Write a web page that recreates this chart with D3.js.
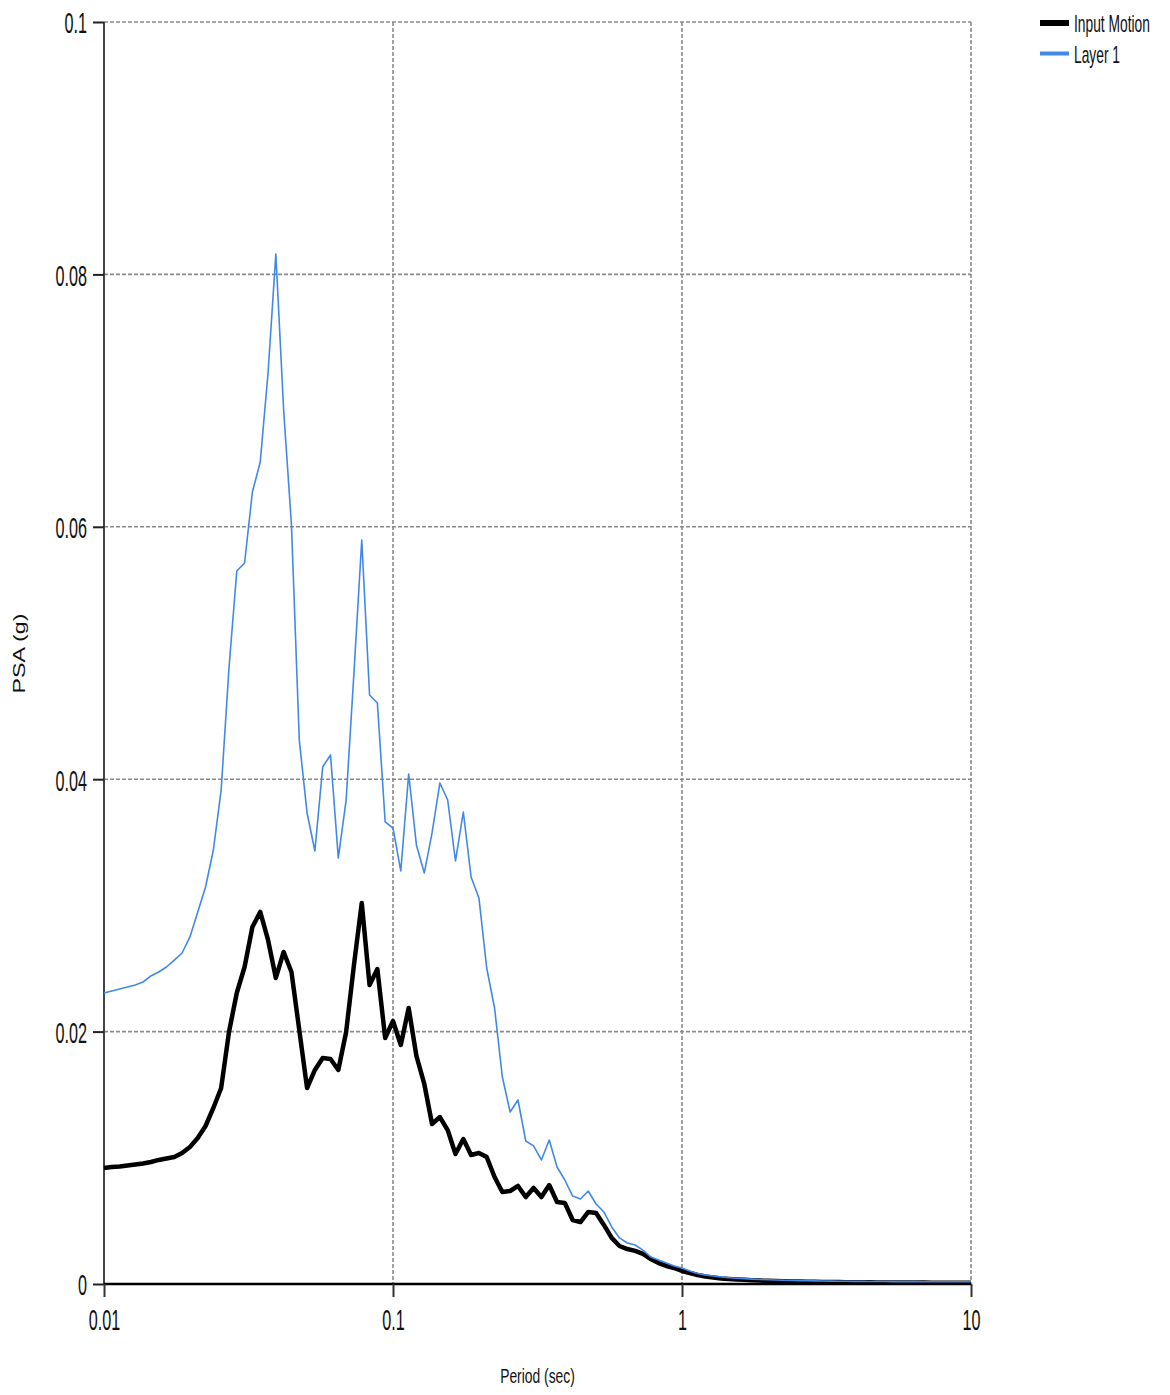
<!DOCTYPE html>
<html>
<head>
<meta charset="utf-8">
<script src="https://cdn.jsdelivr.net/npm/d3@7"></script>
<style>
  body { margin: 0; background: #fff; }
  svg { display: block; }
</style>
</head>
<body>
<svg id="chart" width="1170" height="1395"></svg>
<script>
// Response spectrum periods (sec), 37 per decade from 0.01 to 10
const periods = [
  0.01, 0.01064, 0.01133, 0.01205, 0.01283, 0.01365, 0.01453, 0.01546, 0.01645, 0.01751, 0.01863, 0.01983, 0.0211, 0.02246, 0.0239, 0.02543, 0.02707, 0.0288, 0.03065, 0.03262, 0.03472, 0.03695, 0.03932, 0.04184, 0.04453, 0.04739, 0.05043, 0.05367, 0.05711, 0.06078, 0.06468, 0.06884, 0.07326, 0.07796, 0.08297, 0.08829, 0.09396,
  0.1, 0.1064, 0.1133, 0.1205, 0.1283, 0.1365, 0.1453, 0.1546, 0.1645, 0.1751, 0.1863, 0.1983, 0.211, 0.2246, 0.239, 0.2543, 0.2707, 0.288, 0.3065, 0.3262, 0.3472, 0.3695, 0.3932, 0.4184, 0.4453, 0.4739, 0.5043, 0.5367, 0.5711, 0.6078, 0.6468, 0.6884, 0.7326, 0.7796, 0.8297, 0.8829, 0.9396,
  1, 1.064, 1.133, 1.205, 1.283, 1.365, 1.453, 1.546, 1.645, 1.751, 1.863, 1.983, 2.11, 2.246, 2.39, 2.543, 2.707, 2.88, 3.065, 3.262, 3.472, 3.695, 3.932, 4.184, 4.453, 4.739, 5.043, 5.367, 5.711, 6.078, 6.468, 6.884, 7.326, 7.796, 8.297, 8.829, 9.396,
  10
];

// PSA (g) of the input motion
const inputMotion = [
  0.00919, 0.00927, 0.00931, 0.00939, 0.00947, 0.00955, 0.00967, 0.00983, 0.00994, 0.01006,
  0.01038, 0.01086, 0.01157, 0.01252, 0.01395, 0.01553, 0.01997, 0.02306, 0.02512, 0.02829,
  0.02948, 0.02726, 0.02425, 0.02631, 0.02472, 0.02013, 0.01553, 0.01696, 0.01791, 0.01783,
  0.01696, 0.01997, 0.02528, 0.03019, 0.02369, 0.02496, 0.01949, 0.02084, 0.01894, 0.02187,
  0.01807, 0.01585, 0.01268, 0.01323, 0.01220, 0.01030, 0.01149, 0.01022, 0.01038, 0.01006,
  0.00848, 0.00729, 0.00737, 0.00777, 0.00689, 0.00761, 0.00689, 0.00784, 0.00650, 0.00642,
  0.00507, 0.00491, 0.00571, 0.00563, 0.00468, 0.00365, 0.00301, 0.00277, 0.00262, 0.00238,
  0.00198, 0.00166, 0.00143, 0.00127, 0.00103, 0.00087, 0.00071, 0.00059, 0.00052, 0.00044,
  0.00040, 0.00036, 0.00033, 0.00030, 0.00027, 0.00025, 0.00023, 0.00021, 0.00020, 0.00019,
  0.00018, 0.00017, 0.00016, 0.00015, 0.00015, 0.00014, 0.00014, 0.00013, 0.00013, 0.00012,
  0.00012, 0.00012, 0.00011, 0.00011, 0.00011, 0.00011, 0.00010, 0.00010, 0.00010, 0.00010,
  0.00010, 0.00010
];

// PSA (g) at Layer 1
const layer1 = [
  0.02306, 0.02322, 0.02338, 0.02353, 0.02369, 0.02393, 0.02441, 0.02472, 0.02512, 0.02567,
  0.02623, 0.02750, 0.02948, 0.03146, 0.03439, 0.03914, 0.04881, 0.05650, 0.05713, 0.06276,
  0.06513, 0.07219, 0.08162, 0.06926, 0.06014, 0.04311, 0.03732, 0.03431, 0.04097, 0.04192,
  0.03376, 0.03835, 0.04842, 0.05895, 0.04667, 0.04604, 0.03661, 0.03613, 0.03273, 0.04041,
  0.03479, 0.03257, 0.03574, 0.03970, 0.03835, 0.03352, 0.03740, 0.03225, 0.03059, 0.02504,
  0.02187, 0.01640, 0.01363, 0.01458, 0.01133, 0.01094, 0.00983, 0.01141, 0.00927, 0.00824,
  0.00697, 0.00674, 0.00737, 0.00634, 0.00571, 0.00452, 0.00365, 0.00325, 0.00309, 0.00269,
  0.00214, 0.00190, 0.00166, 0.00143, 0.00127, 0.00103, 0.00083, 0.00071, 0.00063, 0.00055,
  0.00050, 0.00046, 0.00042, 0.00039, 0.00036, 0.00034, 0.00032, 0.00030, 0.00028, 0.00027,
  0.00026, 0.00025, 0.00024, 0.00023, 0.00022, 0.00022, 0.00021, 0.00021, 0.00020, 0.00020,
  0.00020, 0.00019, 0.00019, 0.00019, 0.00019, 0.00018, 0.00018, 0.00018, 0.00018, 0.00018,
  0.00018, 0.00018
];

const xTicks = [0.01, 0.1, 1, 10];
const xTickLabels = ["0.01", "0.1", "1", "10"];
const yTicks = [0, 0.02, 0.04, 0.06, 0.08, 0.1];
const yTickLabels = ["0", "0.02", "0.04", "0.06", "0.08", "0.1"];
const seriesNames = ["Input Motion", "Layer 1"];
const seriesColors = ["#000000", "#4189e8"];
const seriesWidths = [4.5, 1.6];

const W = 1170, H = 1395;
const plot = { left: 104, right: 971, top: 22, bottom: 1284 };
const FONT = "'Liberation Sans', Arial, sans-serif";

const svg = d3.select("#chart");

const x = d3.scaleLog().domain([0.01, 10]).range([plot.left, plot.right]);
const y = d3.scaleLinear().domain([0, 0.1]).range([plot.bottom, plot.top]);

// dashed grid
const grid = svg.append("g").attr("class", "grid");
grid.selectAll("line.h").data(yTicks.filter(d => d > 0)).join("line")
  .attr("x1", plot.left).attr("x2", plot.right)
  .attr("y1", d => y(d)).attr("y2", d => y(d))
  .attr("stroke", "#8a8a8a").attr("stroke-width", 1.6).attr("stroke-dasharray", "4,2");
grid.selectAll("line.v").data(xTicks.filter(d => d > 0.01)).join("line")
  .attr("x1", d => x(d)).attr("x2", d => x(d))
  .attr("y1", plot.top).attr("y2", plot.bottom)
  .attr("stroke", "#8a8a8a").attr("stroke-width", 1.6).attr("stroke-dasharray", "4,2");

// left axis
const sxY = 0.54;
const yAxis = d3.axisLeft(y).tickValues(yTicks)
  .tickFormat((d, i) => yTickLabels[i]).tickSizeInner(11).tickSizeOuter(0);
const gy = svg.append("g").attr("transform", `translate(${plot.left},0)`).call(yAxis);
gy.select(".domain").attr("stroke", "#444").attr("stroke-width", 2)
  .attr("d", `M0,${plot.top}V${plot.bottom}`);
gy.selectAll(".tick line").attr("stroke", "#222").attr("stroke-width", 2);
gy.selectAll(".tick text")
  .attr("font-family", FONT).attr("font-size", 30).attr("fill", "#111")
  .attr("text-anchor", "end").attr("dy", "0.36em")
  .attr("x", -17 / sxY)
  .attr("transform", `scale(${sxY},1)`);

// bottom axis
const sxX = 0.54;
const xAxis = d3.axisBottom(x).tickValues(xTicks)
  .tickFormat((d, i) => xTickLabels[i]).tickSizeInner(13).tickSizeOuter(0);
const gx = svg.append("g").attr("transform", `translate(0,${plot.bottom})`).call(xAxis);
gx.select(".domain").attr("stroke", "#000").attr("stroke-width", 2.5)
  .attr("d", `M${plot.left},0H${plot.right}`);
gx.selectAll(".tick line").attr("stroke", "#333").attr("stroke-width", 2);
gx.selectAll(".tick text")
  .attr("font-family", FONT).attr("font-size", 30).attr("fill", "#111")
  .attr("text-anchor", "middle").attr("dy", 0).attr("y", 46)
  .attr("transform", `scale(${sxX},1)`);

// series lines
const series = [inputMotion, layer1];
const line = d3.line().x((d, i) => x(periods[i])).y(d => y(d));
svg.append("g").selectAll("path").data(series).join("path")
  .attr("d", d => line(d))
  .attr("fill", "none")
  .attr("stroke", (d, i) => seriesColors[i])
  .attr("stroke-width", (d, i) => seriesWidths[i])
  .attr("stroke-linejoin", "round");

// axis titles
svg.append("g").attr("transform", "translate(537.5,1383) scale(0.66,1)")
  .append("text").attr("text-anchor", "middle")
  .attr("font-family", FONT).attr("font-size", 21).attr("fill", "#111")
  .text("Period (sec)");
svg.append("g").attr("transform", "translate(25,653.5) rotate(-90) scale(1.45,1)")
  .append("text").attr("text-anchor", "middle")
  .attr("font-family", FONT).attr("font-size", 16).attr("fill", "#111")
  .text("PSA (g)");

// legend
const legend = svg.append("g");
const legendRows = legend.selectAll("g").data(seriesNames).join("g")
  .attr("transform", (d, i) => `translate(1040,${23 + i * 30.5})`);
legendRows.append("line")
  .attr("x1", 0).attr("x2", 29).attr("y1", 0).attr("y2", 0)
  .attr("stroke", (d, i) => seriesColors[i])
  .attr("stroke-width", (d, i) => i === 0 ? 6 : 4);
legendRows.append("g").attr("transform", "translate(34,9) scale(0.6,1)")
  .append("text").attr("font-family", FONT).attr("font-size", 23).attr("fill", "#111")
  .text(d => d);
</script>
</body>
</html>
